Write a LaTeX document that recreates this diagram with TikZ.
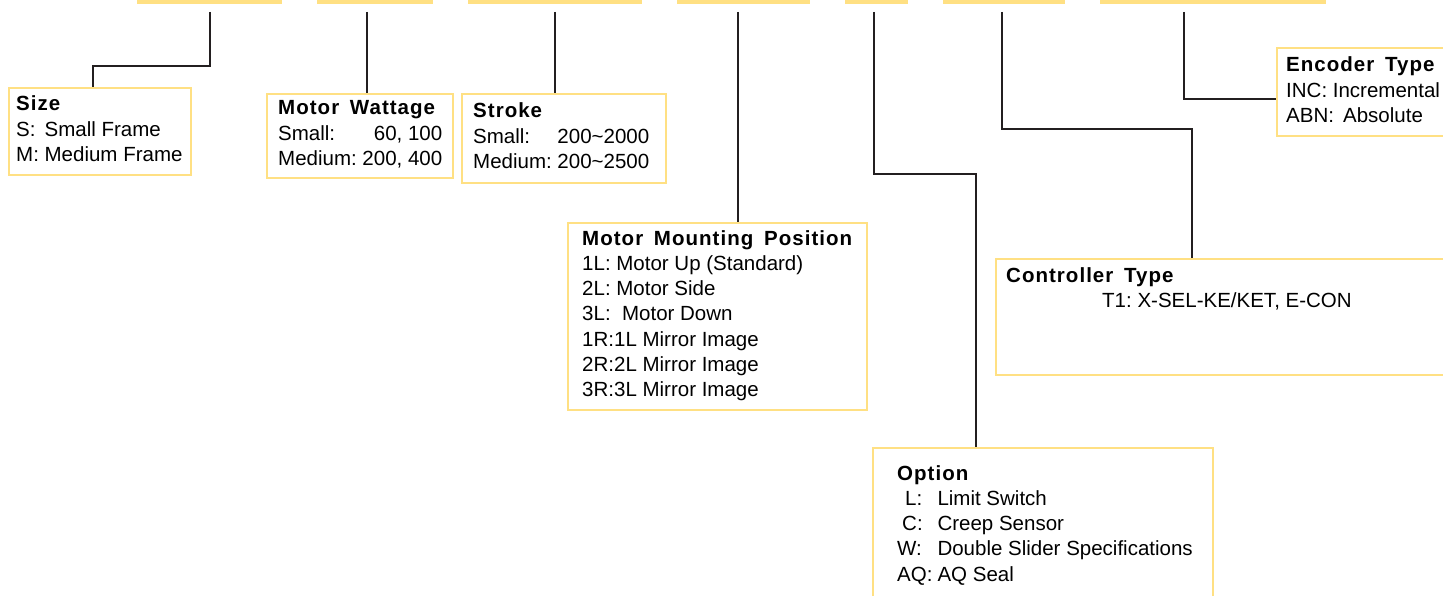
\documentclass[tikz,border=0pt]{standalone}
\usepackage{fontspec}
\setmainfont{Liberation Sans}
\newfontfamily\headfont[LetterSpace=5,WordSpace=1.6]{Liberation Sans}
\usepackage{tikz}

\definecolor{codeyellow}{HTML}{FFE083}
\definecolor{linkgray}{HTML}{231F20}
\newcommand{\hd}[1]{{\headfont\bfseries #1}}

\begin{document}
\begin{tikzpicture}[x=1pt,y=-1pt,
  bar/.style={fill=codeyellow,draw=none,inner sep=0pt,minimum height=10pt,anchor=south west},
  box/.style={draw=codeyellow,line width=2.2pt,fill=white,inner sep=0pt,anchor=north west},
  txt/.style={inner sep=0pt,anchor=base west,font=\fontsize{20.5}{25.3}\selectfont},
  link/.style={draw=linkgray,line width=2.3pt}]

\useasboundingbox (0,0) rectangle (1443,596);

% code fields on top
\node[bar,minimum width=145] (bsize) at (137,4.7) {};
\node[bar,minimum width=116] (bwatt) at (317,4.7) {};
\node[bar,minimum width=174] (bstroke) at (468,4.7) {};
\node[bar,minimum width=133] (bmount) at (677,4.7) {};
\node[bar,minimum width=63] (bopt) at (845,4.7) {};
\node[bar,minimum width=122] (bctrl) at (943,4.7) {};
\node[bar,minimum width=226] (benc) at (1100,4.7) {};

\coordinate (tsize) at (210,12);
\coordinate (twatt) at (367,12);
\coordinate (tstroke) at (555,12);
\coordinate (tmount) at (738,12);
\coordinate (topt) at (874,12);
\coordinate (tctrl) at (1002,12);
\coordinate (tenc) at (1184,12);

% boxes
\node[box,minimum width=182,minimum height=87] (size) at (8,87) {};
\node[box,minimum width=186,minimum height=84] (watt) at (266,93) {};
\node[box,minimum width=204,minimum height=89] (stroke) at (461,93) {};
\node[box,minimum width=299,minimum height=187] (mount) at (567,222) {};
\node[box,minimum width=470,minimum height=116] (ctrl) at (995,258) {};
\node[box,minimum width=340,minimum height=170] (option) at (872,447) {};
\node[box,minimum width=190,minimum height=88] (enc) at (1276,47) {};

% texts
\node[txt] (sizetext) at ([shift={(8,24)}]size.north west)
  {\begin{tabular}[t]{@{}l@{\ }l@{}}\multicolumn{2}{@{}l@{}}{\hd{Size}}\\
   S: & Small Frame\\ M: & Medium Frame\end{tabular}};
\node[txt] (watttext) at ([shift={(12,22)}]watt.north west)
  {\begin{tabular}[t]{@{}l@{\ }r@{}}\multicolumn{2}{@{}l@{}}{\hd{Motor Wattage}}\\
   Small: & 60, 100\\ Medium: & 200, 400\end{tabular}};
\node[txt] (stroketext) at ([shift={(12,25)}]stroke.north west)
  {\begin{tabular}[t]{@{}l@{\ }l@{}}\multicolumn{2}{@{}l@{}}{\hd{Stroke}}\\
   Small: & 200\textasciitilde2000\\ Medium: & 200\textasciitilde2500\end{tabular}};
\node[txt] (mounttext) at ([shift={(15,23)}]mount.north west)
  {\begin{tabular}[t]{@{}l@{}}\hd{Motor Mounting Position}\\
   1L: Motor Up (Standard)\\ 2L: Motor Side\\ 3L:\ \ Motor Down\\
   1R:1L Mirror Image\\ 2R:2L Mirror Image\\ 3R:3L Mirror Image\end{tabular}};
\node[txt] (ctrltext) at ([shift={(11,24)}]ctrl.north west)
  {\begin{tabular}[t]{@{}l@{}}\hd{Controller Type}\\
   \hspace*{96pt}T1:\ X-SEL-KE/KET, E-CON\end{tabular}};
\node[txt] (opttext) at ([shift={(25,33)}]option.north west)
  {\begin{tabular}[t]{@{}l@{\hspace{5pt}}l@{}}\multicolumn{2}{@{}l@{}}{\hd{Option}}\\
   \hspace*{8pt}L: & Limit Switch\\ \hspace*{5pt}C: & Creep Sensor\\ W: & Double Slider Specifications\\
   AQ: & AQ Seal\end{tabular}};
\node[txt] (enctext) at ([shift={(10,25)}]enc.north west)
  {\begin{tabular}[t]{@{}l@{}}\hd{Encoder Type}\\
   INC: Incremental\\ ABN:\ \,Absolute\end{tabular}};

% connectors
\draw[link] (tsize) -- ++(0,54) -| ([xshift=85pt]size.north west);
\draw[link] (twatt) -- (twatt |- watt.north);
\draw[link] (tstroke) -- (tstroke |- stroke.north);
\draw[link] (tmount) -- (tmount |- mount.north);
\draw[link] (topt) -- ++(0,162) -| ([xshift=104pt]option.north west);
\draw[link] (tctrl) -- ++(0,117) -| ([xshift=197pt]ctrl.north west);
\draw[link] (tenc) |- ([yshift=-7pt]enc.west);

\end{tikzpicture}
\end{document}
